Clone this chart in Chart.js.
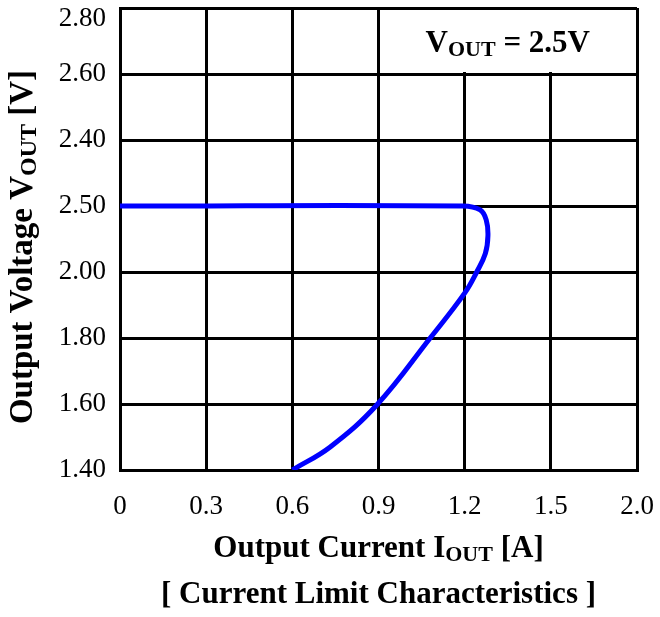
<!DOCTYPE html>
<html>
<head>
<meta charset="utf-8">
<script src="https://cdn.jsdelivr.net/npm/chart.js@4/dist/chart.umd.min.js"></script>
<style>
  body { margin: 0; background: #fff; }
  #wrap { width: 660px; height: 617px; }
</style>
</head>
<body>
<div id="wrap"><canvas id="myChart"></canvas></div>
<script>
// tick labels (the datasheet axes are not evenly scaled, so the grid index is used)
var xTickLabels = ["0", "0.3", "0.6", "0.9", "1.2", "1.5", "2.0"];
var yTickLabels = ["1.40", "1.60", "1.80", "2.00", "2.50", "2.40", "2.60", "2.80"];

// curve, in grid units
var curveX = [0, 3.98, 4.18, 4.25, 4.27, 4.24, 4.14, 4.0, 3.6, 2.98, 2.44, 2.0];
var curveY = [4, 4, 3.94, 3.79, 3.55, 3.28, 3.0, 2.68, 2.0, 0.985, 0.35, 0];

var serif = "'Liberation Serif', 'Times New Roman', serif";

var points = [];
for (var i = 0; i < curveX.length; i++) {
  points.push({x: curveX[i], y: curveY[i]});
}

// draws text with "OUT" style subscripts, centred on x
function drawRuns(ctx, runs, x, y, size) {
  var total = 0;
  runs.forEach(function(r) {
    ctx.font = "bold " + (r.sub ? Math.round(size * 0.72) : size) + "px " + serif;
    r.w = ctx.measureText(r.t).width;
    total += r.w;
  });
  var cx = x - total / 2;
  runs.forEach(function(r) {
    ctx.font = "bold " + (r.sub ? Math.round(size * 0.72) : size) + "px " + serif;
    ctx.fillText(r.t, cx, y + (r.sub ? 4 : 0));
    cx += r.w;
  });
}

var textPlugin = {
  id: "texts",
  beforeDatasetsDraw: function(chart) {
    // blank cell for the V_OUT label
    var ctx = chart.ctx, xs = chart.scales.x, ys = chart.scales.y;
    ctx.save();
    ctx.fillStyle = "#fff";
    var l = xs.getPixelForValue(3) + 2, r = xs.getPixelForValue(6) - 2;
    var t = ys.getPixelForValue(7) + 2, b = ys.getPixelForValue(6) - 2;
    ctx.fillRect(l, t, r - l, b - t);
    ctx.restore();
  },
  afterDraw: function(chart) {
    var ctx = chart.ctx, xs = chart.scales.x, ys = chart.scales.y, a = chart.chartArea;
    ctx.save();
    ctx.fillStyle = "#000";
    ctx.textAlign = "left";
    ctx.textBaseline = "alphabetic";

    // label inside the top right cell
    var bx = (xs.getPixelForValue(3) + xs.getPixelForValue(6)) / 2;
    var by = ys.getPixelForValue(6.5) + 11;
    drawRuns(ctx, [{t: "V"}, {t: "OUT", sub: true}, {t: " = 2.5V"}], bx, by, 31);

    // x axis title and caption
    var mid = (a.left + a.right) / 2;
    drawRuns(ctx, [{t: "Output Current I"}, {t: "OUT", sub: true}, {t: " [A]"}], mid, a.bottom + 87, 31);
    drawRuns(ctx, [{t: "[ Current Limit Characteristics ]"}], mid, a.bottom + 133, 31);

    // y axis title
    ctx.translate(32, (a.top + a.bottom) / 2 + 8);
    ctx.rotate(-Math.PI / 2);
    drawRuns(ctx, [{t: "Output Voltage V"}, {t: "OUT", sub: true}, {t: " [V]"}], 0, 0, 33);
    ctx.restore();
  }
};

new Chart("myChart", {
  type: "scatter",
  data: {
    datasets: [{
      data: points,
      showLine: true,
      borderColor: "rgb(0,0,255)",
      borderWidth: 5,
      pointRadius: 0,
      tension: 0.4,
      fill: false
    }]
  },
  options: {
    responsive: true,
    maintainAspectRatio: false,
    animation: false,
    layout: {padding: {left: 0, right: 23, top: 8, bottom: 0}},
    plugins: {legend: {display: false}, tooltip: {enabled: false}},
    scales: {
      x: {
        type: "linear",
        min: 0,
        max: 6,
        afterFit: function(s) { s.height = 147; s.paddingLeft = 0; s.paddingRight = 0; },
        afterBuildTicks: function(s) {
          s.ticks = xTickLabels.map(function(l, i) { return {value: i}; });
        },
        ticks: {
          color: "#000",
          padding: 21,
          maxRotation: 0,
          autoSkip: false,
          font: {family: serif, size: 27},
          callback: function(v) { return xTickLabels[v]; }
        },
        grid: {color: "#000", lineWidth: 3, drawTicks: false},
        border: {color: "#000", width: 3}
      },
      y: {
        type: "linear",
        min: 0,
        max: 7,
        afterFit: function(s) { s.width = 120; s.paddingTop = 0; s.paddingBottom = 0; },
        afterBuildTicks: function(s) {
          s.ticks = yTickLabels.map(function(l, i) { return {value: i}; });
        },
        ticks: {
          color: "#000",
          padding: 14,
          autoSkip: false,
          font: {family: serif, size: 27, lineHeight: 0.8},
          // top label sits a little below its grid line
          callback: function(v) { return v === 7 ? ["", yTickLabels[v]] : yTickLabels[v]; }
        },
        grid: {color: "#000", lineWidth: 3, drawTicks: false},
        border: {color: "#000", width: 3}
      }
    }
  },
  plugins: [textPlugin]
});
</script>
</body>
</html>
